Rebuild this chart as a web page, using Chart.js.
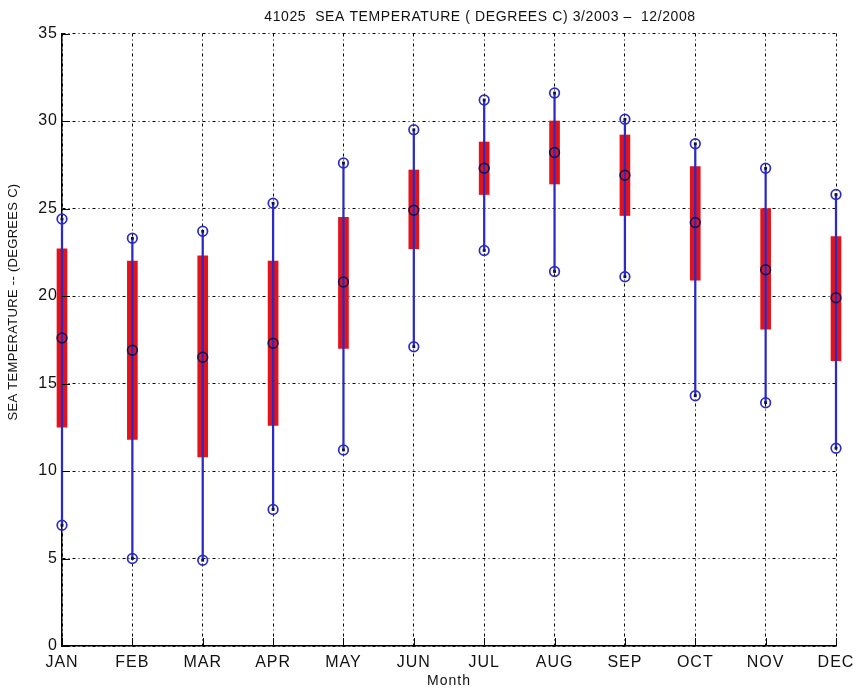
<!DOCTYPE html>
<html>
<head>
<meta charset="utf-8">
<script src="https://cdn.jsdelivr.net/npm/chart.js@4.4.1/dist/chart.umd.min.js"></script>
<style>
  html, body { margin: 0; padding: 0; background: #ffffff; }
  #wrap { width: 860px; height: 692px; position: relative; }
</style>
</head>
<body>
<div id="wrap"><canvas id="c"></canvas></div>
<script>
const months = ['JAN','FEB','MAR','APR','MAY','JUN','JUL','AUG','SEP','OCT','NOV','DEC'];
const minVals = [6.9, 5.0, 4.9, 7.8, 11.2, 17.1, 22.6, 21.4, 21.1, 14.3, 13.9, 11.3];
const q1Vals  = [12.5, 11.8, 10.8, 12.6, 17.0, 22.7, 25.8, 26.4, 24.6, 20.9, 18.1, 16.3];
const medVals = [17.6, 16.9, 16.5, 17.3, 20.8, 24.9, 27.3, 28.2, 26.9, 24.2, 21.5, 19.9];
const q3Vals  = [22.7, 22.0, 22.3, 22.0, 24.5, 27.2, 28.8, 30.0, 29.2, 27.4, 25.0, 23.4];
const maxVals = [24.4, 23.3, 23.7, 25.3, 27.6, 29.5, 31.2, 31.6, 30.1, 28.7, 27.3, 25.8];
const yTicks = [0, 5, 10, 15, 20, 25, 30, 35];
const chartTitle = '41025  SEA TEMPERATURE ( DEGREES C) 3/2003 \u2013  12/2008';
const yTitle = 'SEA TEMPERATURE -- (DEGREES C)';
const xTitle = 'Month';

const RED = '#e3131b';
const BLUE = '#2b2bc4';
const FONT = '"Liberation Sans", Arial, Helvetica, sans-serif';

const boxData = months.map((m, i) => [q1Vals[i], q3Vals[i]]);
const whiskerData = months.map((m, i) => [minVals[i], maxVals[i]]);

// wider letter spacing like the MATLAB bitmap font
const spacing = {
  id: 'spacing',
  beforeDraw(chart) { chart.ctx.letterSpacing = '1px'; }
};

// inward tick marks at the scales' own tick positions, plus titles
const extras = {
  id: 'extras',
  afterDatasetsDraw(chart) {
    const {ctx, chartArea, scales} = chart;
    ctx.save();
    ctx.strokeStyle = '#000';
    ctx.lineWidth = 1;
    ctx.setLineDash([]);
    ctx.beginPath();
    scales.x.ticks.forEach((t, i) => {
      const px = Math.round(scales.x.getPixelForTick(i)) + 0.5;
      ctx.moveTo(px, chartArea.bottom);
      ctx.lineTo(px, chartArea.bottom - 8);
    });
    scales.y.ticks.forEach((t, i) => {
      const py = Math.round(scales.y.getPixelForTick(i)) + 0.5;
      ctx.moveTo(chartArea.left, py);
      ctx.lineTo(chartArea.left + 8, py);
    });
    ctx.stroke();
    ctx.restore();
  },
  afterDraw(chart) {
    const {ctx} = chart;
    ctx.save();
    ctx.fillStyle = '#111';
    ctx.textAlign = 'center';
    ctx.textBaseline = 'middle';
    ctx.letterSpacing = '0.6px';
    ctx.font = '14px ' + FONT;
    ctx.fillText(chartTitle, 480, 17);
    ctx.letterSpacing = '0.3px';
    ctx.font = '13px ' + FONT;
    ctx.translate(13, 302);
    ctx.rotate(-Math.PI / 2);
    ctx.fillText(yTitle, 0, 0);
    ctx.restore();
  }
};

new Chart(document.getElementById('c'), {
  type: 'bar',
  data: {
    labels: months,
    datasets: [
      {
        type: 'line', label: 'max', data: maxVals, showLine: false, order: -2, clip: false,
        pointStyle: 'circle', pointRadius: 4.8, pointBorderWidth: 1.7,
        pointBorderColor: BLUE, pointBackgroundColor: 'rgba(0,0,0,0)'
      },
      {
        type: 'line', label: 'min', data: minVals, showLine: false, order: -2, clip: false,
        pointStyle: 'circle', pointRadius: 4.8, pointBorderWidth: 1.7,
        pointBorderColor: BLUE, pointBackgroundColor: 'rgba(0,0,0,0)'
      },
      {
        type: 'line', label: 'median', data: medVals, showLine: false, order: -2, clip: false,
        pointStyle: 'circle', pointRadius: 4.8, pointBorderWidth: 1.7,
        pointBorderColor: '#14145a', pointBackgroundColor: 'rgba(0,0,0,0)'
      },
      {
        type: 'line', label: 'maxdot', data: maxVals, showLine: false, order: -3, clip: false,
        pointStyle: 'rect', pointRadius: 2, pointBorderWidth: 0,
        pointBackgroundColor: '#101040'
      },
      {
        type: 'line', label: 'mindot', data: minVals, showLine: false, order: -3, clip: false,
        pointStyle: 'rect', pointRadius: 2, pointBorderWidth: 0,
        pointBackgroundColor: '#101040'
      },
      {
        label: 'whisker', data: whiskerData, grouped: false, order: 0, clip: false,
        backgroundColor: BLUE, borderWidth: 0, barThickness: 1.6
      },
      {
        label: 'box', data: boxData, grouped: false, order: 1, clip: false,
        backgroundColor: RED, borderWidth: 0, barThickness: 10
      }
    ]
  },
  options: {
    responsive: true,
    maintainAspectRatio: false,
    animation: false,
    layout: { padding: { left: 0, right: 24, top: 33.5, bottom: 0 } },
    plugins: {
      legend: { display: false },
      tooltip: { enabled: false },
      title: { display: false }
    },
    scales: {
      x: {
        type: 'category',
        offset: false,
        grid: { offset: false, color: '#000', lineWidth: 1, drawTicks: false },
        border: { display: true, color: '#000', width: 1.5, dash: [3, 3, 1, 3] },
        ticks: { color: '#111', font: { family: FONT, size: 16 }, padding: 7, maxRotation: 0, autoSkip: false },
        title: { display: true, text: xTitle, color: '#111', font: { family: FONT, size: 14 }, padding: 2 },
        afterFit(s) { s.height = 46; }
      },
      y: {
        type: 'linear',
        min: 0, max: 35,
        afterBuildTicks(s) { s.ticks = yTicks.map(v => ({ value: v })); },
        grid: { color: '#000', lineWidth: 1, drawTicks: false },
        border: { display: true, color: '#000', width: 1.5, dash: [3, 3, 1, 3] },
        ticks: { color: '#111', font: { family: FONT, size: 16 }, padding: 4 },
        title: { display: false },
        afterFit(s) { s.width = 62; }
      }
    }
  },
  plugins: [spacing, extras]
});
</script>
</body>
</html>
